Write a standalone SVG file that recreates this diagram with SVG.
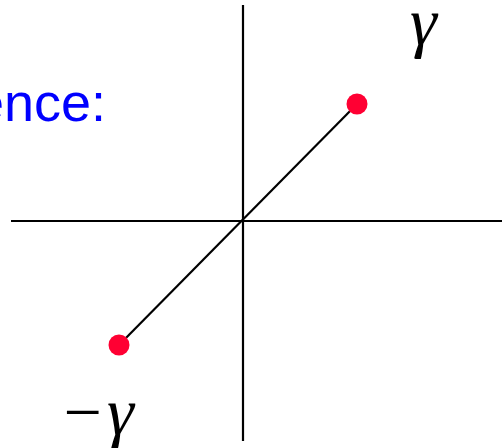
<svg xmlns="http://www.w3.org/2000/svg" width="502" height="448" viewBox="0 0 502 448">
<style>
.ax{stroke:#000;stroke-width:2.2;fill:none}
.dot{fill:#FF0033}
.g{font-family:"Liberation Serif",serif;font-style:italic;font-size:68px;fill:#000}
.lbl{font-family:"Liberation Sans",Arial,sans-serif;font-size:54px;fill:#0000FF}
</style>
<rect width="502" height="448" fill="#fff"/>
<text class="lbl" x="-26" y="121">ence:</text>
<g id="connectors">
<line class="ax" x1="243" y1="5" x2="243" y2="441"/>
<line class="ax" x1="11" y1="221" x2="502" y2="221"/>
<line class="ax" x1="119" y1="345" x2="357" y2="104"/>
</g>
<g id="pos"><circle class="dot" cx="357" cy="104" r="10.5"/></g>
<g id="neg"><circle class="dot" cx="119" cy="345" r="10.5"/></g>
<text class="g" x="410" y="45">γ</text>
<text class="g" x="59" y="435">−<tspan dx="2">γ</tspan></text>
</svg>
